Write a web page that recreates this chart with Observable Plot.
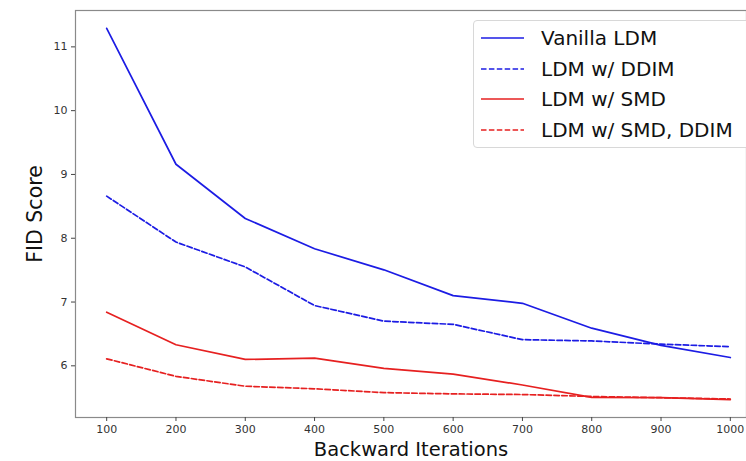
<!DOCTYPE html>
<html>
<head>
<meta charset="utf-8">
<script src="https://cdn.jsdelivr.net/npm/d3@7"></script>
<script src="https://cdn.jsdelivr.net/npm/@observablehq/plot@0.6"></script>
<style>
  html, body { margin: 0; padding: 0; background: #fff; }
  #wrap { position: relative; width: 746px; height: 461px; overflow: hidden; font-family: "DejaVu Sans", sans-serif; }
  #legend { position: absolute; left: 473px; top: 20px; width: 300px; height: 128px; border: 1px solid #d8d8d8; border-radius: 4px; background: rgba(255,255,255,0.85); box-sizing: border-box; }
  .row { position: absolute; left: 0; height: 30px; display: flex; align-items: center; }
  .row svg { margin-left: 7px; }
  .row span { margin-left: 17px; font-size: 20px; color: #111; white-space: nowrap; }
</style>
</head>
<body>
<div id="wrap"></div>
<script>
const iterations = [100, 200, 300, 400, 500, 600, 700, 800, 900, 1000];
const vanillaLDM = [11.29, 9.16, 8.31, 7.835, 7.505, 7.10, 6.98, 6.59, 6.32, 6.13];
const ldmDDIM    = [8.66, 7.94, 7.55, 6.945, 6.70, 6.65, 6.41, 6.39, 6.34, 6.30];
const ldmSMD     = [6.84, 6.33, 6.10, 6.12, 5.96, 5.87, 5.70, 5.505, 5.50, 5.47];
const ldmSMDDDIM = [6.11, 5.835, 5.68, 5.64, 5.58, 5.56, 5.55, 5.52, 5.50, 5.48];
const xTicks = [100, 200, 300, 400, 500, 600, 700, 800, 900, 1000];
const yTicks = [6, 7, 8, 9, 10, 11];

const seriesDefs = [
  {name: "Vanilla LDM", values: vanillaLDM, color: "#1c1ce4", dash: null},
  {name: "LDM w/ DDIM", values: ldmDDIM, color: "#1c1ce4", dash: "5.5,2.4"},
  {name: "LDM w/ SMD", values: ldmSMD, color: "#e62020", dash: null},
  {name: "LDM w/ SMD, DDIM", values: ldmSMDDDIM, color: "#e62020", dash: "5.5,2.4"}
];

const lineMarks = seriesDefs.map(s =>
  Plot.line(iterations.map((x, i) => ({x, y: s.values[i]})), {
    x: "x", y: "y", stroke: s.color, strokeWidth: 1.7,
    strokeDasharray: s.dash || undefined, strokeLinejoin: "round"
  })
);

const chart = Plot.plot({
  width: 746,
  height: 461,
  marginLeft: 75,
  marginTop: 10,
  marginBottom: 44,
  marginRight: 0,
  style: {fontFamily: "DejaVu Sans, sans-serif", background: "#fff"},
  x: {domain: [55, 1045], range: [75, 761]},
  y: {domain: [5.19, 11.57], range: [417, 10]},
  marks: [
    ...lineMarks,
    Plot.frame({stroke: "#8a8a8a", strokeWidth: 1.2}),
    Plot.axisX({ticks: xTicks, tickFormat: d => String(d), tickSize: 4, tickPadding: 4,
      fontSize: 11, color: "#333", stroke: "#444", label: null}),
    Plot.axisY({ticks: yTicks, tickFormat: d => String(d), tickSize: 4, tickPadding: 4,
      fontSize: 11, color: "#333", stroke: "#444", label: null}),
    Plot.text(["Backward Iterations"], {frameAnchor: "bottom", textAnchor: "middle", lineAnchor: "middle", dy: 32, fontSize: 19.5, fill: "#111", text: d => d}),
    Plot.text(["FID Score"], {frameAnchor: "left", textAnchor: "middle", lineAnchor: "middle", dx: -40, rotate: -90, fontSize: 20.5, fill: "#111", text: d => d})
  ]
});

const wrap = document.getElementById("wrap");
wrap.appendChild(chart);

const legend = document.createElement("div");
legend.id = "legend";
seriesDefs.forEach((s, i) => {
  const row = document.createElement("div");
  row.className = "row";
  row.style.top = (2 + i * 30.5) + "px";
  row.innerHTML = `<svg width="43" height="6"><line x1="0" y1="3" x2="43" y2="3" stroke="${s.color}" stroke-width="1.7" ${s.dash ? `stroke-dasharray="${s.dash}"` : ""}/></svg><span>${s.name}</span>`;
  legend.appendChild(row);
});
wrap.appendChild(legend);
</script>
</body>
</html>
